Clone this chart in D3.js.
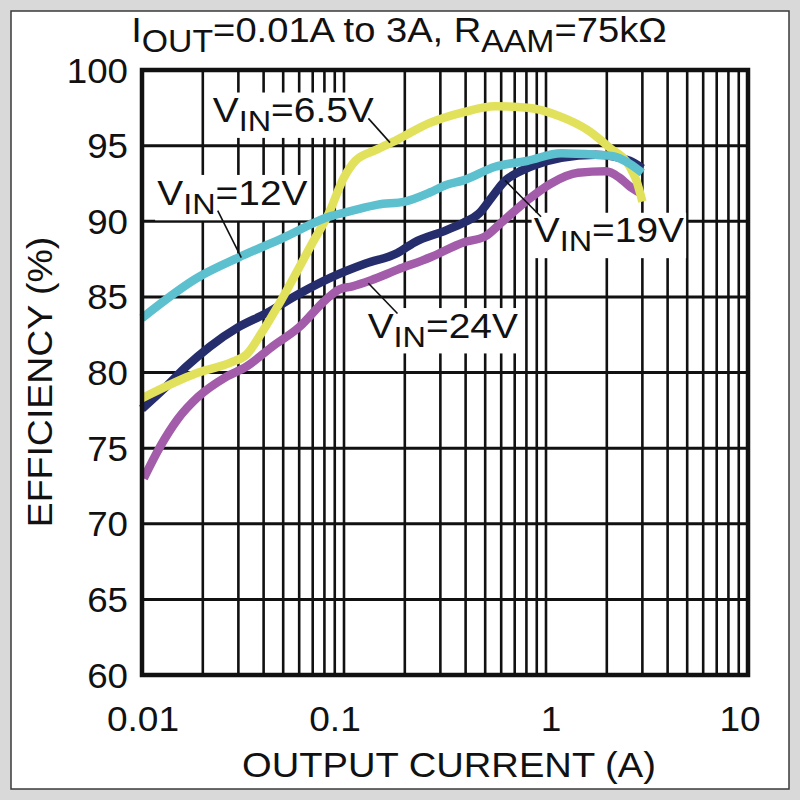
<!DOCTYPE html>
<html><head><meta charset="utf-8">
<script src="https://cdn.jsdelivr.net/npm/d3@7"></script>
<style>body{margin:0;background:#fff}svg{display:block}text{font-family:"Liberation Sans",Arial,sans-serif;fill:#111}</style>
</head><body><svg id="c" width="800" height="800"></svg>
<script>
// ---- data ----
const xTicks = [0.01, 0.1, 1, 10];
const xTickLabels = ["0.01", "0.1", "1", "10"];
const yTicks = [60, 65, 70, 75, 80, 85, 90, 95, 100];

const vin65Current = [0.01,0.019,0.028,0.033,0.039,0.049,0.07,0.084,0.1,0.114,0.143,0.184,0.266,0.388,0.56,0.81,1.19,1.62,2.05,2.6,2.8,3.0];
const vin65Eff     = [78.3,80.0,80.7,81.2,82.6,84.8,88.6,90.5,92.9,94.0,94.7,95.4,96.5,97.2,97.6,97.5,96.9,96.0,94.9,93.6,92.7,91.3];

const vin12Current = [0.01,0.019,0.03,0.05,0.084,0.11,0.147,0.2,0.266,0.32,0.39,0.56,0.81,1.19,1.76,2.15,2.6,3.0];
const vin12Eff     = [83.6,86.3,87.6,88.9,90.3,90.7,91.1,91.3,91.9,92.4,92.7,93.6,94.0,94.5,94.4,94.3,93.8,93.2];

const vin19Current = [0.01,0.013,0.0166,0.0216,0.03,0.041,0.06,0.087,0.128,0.184,0.223,0.32,0.39,0.465,0.54,0.63,0.72,0.875,1.19,1.76,2.6,3.0];
const vin19Eff     = [77.6,79.0,80.4,81.7,83.0,83.9,85.2,86.3,87.2,87.9,88.6,89.4,89.9,90.5,91.6,92.7,93.2,93.7,94.2,94.4,94.0,93.5];

const vin24Current = [0.0102,0.0123,0.015,0.019,0.026,0.033,0.044,0.06,0.081,0.095,0.11,0.136,0.184,0.266,0.39,0.5,0.6,0.81,1.06,1.44,1.98,2.3,2.6,2.9];
const vin24Eff     = [73.0,75.1,76.9,78.4,79.7,80.4,81.7,83.0,84.8,85.5,85.7,86.1,86.8,87.6,88.6,89.0,89.9,91.4,92.5,93.2,93.3,92.9,92.3,91.9];

const seriesNames = ["6.5V", "12V", "19V", "24V"];
const seriesColors = ["#e2e15c", "#5cc0cf", "#262d6c", "#a35ca9"];

// ---- layout ----
const svg = d3.select("#c");
const L = 142, R = 748, T = 70, B = 675;
const x = d3.scaleLog().domain([0.01, 10]).range([L, R]);
const y = d3.scaleLinear().domain([60, 100]).range([B, T]);

function sText(parent, px, py, size, sx, anchor, rot) {
  const gg = parent.append("g").attr("transform", `translate(${px},${py})` + (rot ? ` rotate(${rot})` : "") + ` scale(${sx},1)`);
  return gg.append("text").attr("font-size", size).attr("text-anchor", anchor || "start");
}

// frame
svg.append("rect").attr("width", 800).attr("height", 800).attr("fill", "#d9d9d9");
svg.append("rect").attr("x", 11).attr("y", 11).attr("width", 778).attr("height", 778)
  .attr("fill", "#fff").attr("stroke", "#3a3a3a").attr("stroke-width", 1.5);

// grid
const g = svg.append("g");
const minor = [];
[0.01, 0.1, 1].forEach(d => { for (let k = 1; k <= 9; k++) minor.push(d * k); });
g.selectAll("line.v").data(minor.slice(1)).join("line")
  .attr("x1", d => x(d)).attr("x2", d => x(d)).attr("y1", T).attr("y2", B)
  .attr("stroke", "#111").attr("stroke-width", 2.6);
g.selectAll("line.h").data(yTicks).join("line")
  .attr("x1", L).attr("x2", R).attr("y1", d => y(d)).attr("y2", d => y(d))
  .attr("stroke", "#111").attr("stroke-width", 3);

// curves
const series = [
  [vin65Current, vin65Eff], [vin12Current, vin12Eff], [vin19Current, vin19Eff], [vin24Current, vin24Eff]
];
const line = d3.line().x(d => x(d[0])).y(d => y(d[1])).curve(d3.curveMonotoneX);
const drawOrder = [3, 2, 0, 1];
drawOrder.forEach(i => {
  const pts = series[i][0].map((c, j) => [c, series[i][1][j]]);
  svg.append("path").datum(pts).attr("d", line).attr("fill", "none")
    .attr("stroke", seriesColors[i]).attr("stroke-width", 8.5).attr("stroke-linejoin", "round");
});

// border
svg.append("rect").attr("x", L).attr("y", T).attr("width", R - L).attr("height", B - T)
  .attr("fill", "none").attr("stroke", "#111").attr("stroke-width", 4.5);

// annotations: [label, textI, textE, leader from (I,E) to (I,E)]
const notes = [
  ["6.5V", 0.0224, 96.55, [0.132, 96.8], [0.169, 95.2]],
  ["12V", 0.0119, 91.1, [0.0237, 90.7], [0.031, 87.6]],
  ["24V", 0.131, 82.3, [0.132, 85.9], [0.184, 83.9]],
  ["19V", 0.87, 88.6, [0.627, 92.7], [0.945, 90.3]]
];
notes.forEach(n => {
  const grp = svg.append("g");
  const bg = grp.append("rect").attr("fill", "#fff");
  const t = sText(grp, x(n[1]), y(n[2]), 36, 1.08, "start");
  t.append("tspan").text("V");
  t.append("tspan").attr("font-size", 30).attr("dy", 9).text("IN");
  t.append("tspan").attr("dy", -9).text("=" + n[0]);
  const bb = t.node().getBBox();
  bg.attr("x", x(n[1]) + (bb.x - 2) * 1.08).attr("y", y(n[2]) + bb.y + 3)
    .attr("width", (bb.width + 4) * 1.08).attr("height", bb.height - 3);
  svg.append("line").attr("x1", x(n[3][0])).attr("y1", y(n[3][1]))
    .attr("x2", x(n[4][0])).attr("y2", y(n[4][1])).attr("stroke", "#111").attr("stroke-width", 1.6);
});

// axes tick labels
const xOff = [1, -9, 5, -8];
xTicks.forEach((d, i) => {
  sText(svg, x(d) + xOff[i], 731, 35, 1.06, "middle").text(xTickLabels[i]);
});
yTicks.forEach(d => {
  sText(svg, L - 14, y(d) + 12.5, 35, 1.05, "end").text(d3.format("d")(d));
});

sText(svg, 449, 777, 35, 1.09, "middle").text("OUTPUT CURRENT (A)");
sText(svg, 52, 382, 35, 1.07, "middle", -90).text("EFFICIENCY (%)");

// title
const title = sText(svg, 399, 42, 35, 1.09, "middle");
title.append("tspan").text("I");
title.append("tspan").attr("font-size", 31).attr("dy", 10).text("OUT");
title.append("tspan").attr("dy", -10).text("=0.01A to 3A, R");
title.append("tspan").attr("font-size", 31).attr("dy", 10).text("AAM");
title.append("tspan").attr("dy", -10).text("=75kΩ");
</script></body></html>
